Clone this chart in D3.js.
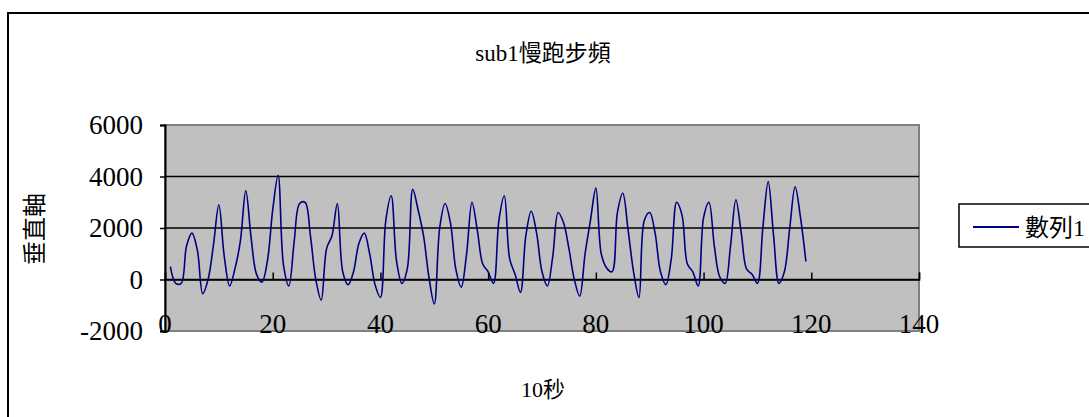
<!DOCTYPE html>
<html lang='zh-Hant'>
	<head>
		<meta charset='utf-8'>
		<title>sub1慢跑步頻</title>
		<script type='text/javascript' src='https://cdn.jsdelivr.net/npm/d3@7'></script>
		<style>
			body { margin:0; background:#fff; }
			text { font-family:'Liberation Serif','Noto Sans CJK TC',serif; fill:#000; }
		</style>
	</head>
	<body>
	</body>
	<script type='text/javascript'>
	// values, one per sample (x = 1 .. 119)
	var seriesName = '數列1';
	var steps = [
		500, -150, -150, 1300, 1800, 1150, -550, 0, 1350, 2900,
		900, -250, 430, 1500, 3450, 1600, 200, -100, 700, 2700,
		4050, 560, -250, 1500, 2950, 3000, 1700, 0, -800, 1200,
		1700, 2950, 300, -200, 300, 1400, 1800, 1000, -200, -700,
		2300, 3250, 700, -150, 430, 3500, 2700, 1700, 100, -950,
		2000, 2950, 2200, 400, -300, 1000, 3000, 1900, 600, 300,
		-150, 2300, 3250, 800, 200, -500, 1700, 2650, 1800, 300,
		-250, 900, 2600, 2200, 1200, 0, -650, 1000, 2300, 3550,
		1000, 450, 300, 2600, 3350, 1900, 300, -700, 2300, 2600,
		1800, 300, -200, 800, 3000, 2500, 600, 300, -250, 2400,
		3000, 1300, 100, -150, 1300, 3100, 1800, 400, 200, -150,
		2000, 3800, 1700, -150, 300, 2000, 3600, 2400, 700
	];
	var yTicks = [-2000, 0, 2000, 4000, 6000];
	var xTicks = [0, 20, 40, 60, 80, 100, 120, 140];
	var title = 'sub1慢跑步頻', xTitle = '10秒', yTitle = '垂直軸';

	var width = 1089, height = 417;
	var pLeft = 165, pRight = 919, pTop = 125, pBottom = 331;

	var svg = d3.select('body').append('svg').attr('width', width).attr('height', height)

	// chart frame
	svg.append('rect').attr('x', 8).attr('y', 13).attr('width', 1100).attr('height', 420)
		.attr('fill', '#fff').attr('stroke', '#000').attr('stroke-width', 2)

	var x = d3.scaleLinear().domain([0, 140]).range([pLeft, pRight]);
	var y = d3.scaleLinear().domain([-2000, 6000]).range([pBottom, pTop]);

	// plot area
	svg.append('rect').attr('x', pLeft).attr('y', pTop).attr('width', pRight-pLeft).attr('height', pBottom-pTop)
		.attr('fill', '#c0c0c0').attr('stroke', '#808080').attr('stroke-width', 2)

	// gridlines
	svg.append('g').selectAll('line').data(yTicks.filter(d => d > -2000 && d < 6000)).enter().append('line')
		.attr('x1', pLeft).attr('x2', pRight).attr('y1', d => y(d)).attr('y2', d => y(d))
		.attr('stroke', '#000').attr('stroke-width', 1.5)

	// y axis
	var yAxis = svg.append('g').attr('transform', 'translate('+pLeft+',0)')
		.call(d3.axisLeft(y).tickValues(yTicks).tickSize(5).tickPadding(17).tickFormat(d => String(d)))
	yAxis.select('.domain').attr('stroke', '#000').attr('stroke-width', 2)
	yAxis.selectAll('.tick line').attr('stroke', '#000').attr('stroke-width', 1.5)
	yAxis.selectAll('text').attr('font-size', '27px').attr('font-family', 'Liberation Serif').attr('dy', '0.33em')

	// x axis sits on zero, ticks point up, labels at bottom of plot
	var xAxis = svg.append('g').attr('transform', 'translate(0,'+y(0)+')')
		.call(d3.axisTop(x).tickValues(xTicks).tickSize(7).tickFormat(d => String(d)))
	xAxis.select('.domain').attr('stroke', '#000').attr('stroke-width', 1.5)
	xAxis.selectAll('.tick line').attr('stroke', '#000').attr('stroke-width', 1.5)
	xAxis.selectAll('text').remove()
	svg.append('g').selectAll('text').data(xTicks).enter().append('text')
		.attr('x', d => x(d)).attr('y', pBottom+2).attr('text-anchor', 'middle')
		.attr('font-size', '27px').text(d => d)

	// series (smoothed like the dense original trace)
	var line = d3.line().x((d, i) => x(i+1)).y(d => y(d)).curve(d3.curveCatmullRom.alpha(0.5));
	svg.append('path').datum(steps).attr('d', line)
		.attr('fill', 'none').attr('stroke', '#000080').attr('stroke-width', 1.6).attr('stroke-linejoin', 'round')

	// titles
	svg.append('text').attr('x', 543).attr('y', 61).attr('text-anchor', 'middle').attr('font-size', '23px').text(title)
	svg.append('text').attr('x', 543).attr('y', 397).attr('text-anchor', 'middle').attr('font-size', '22px').text(xTitle)
	svg.append('text').attr('transform', 'translate(43,229) rotate(-90)').attr('text-anchor', 'middle')
		.attr('font-size', '24px').text(yTitle)

	// legend
	svg.append('rect').attr('x', 959).attr('y', 204).attr('width', 140).attr('height', 43)
		.attr('fill', '#fff').attr('stroke', '#000').attr('stroke-width', 1.5)
	svg.append('line').attr('x1', 973).attr('x2', 1019).attr('y1', 227).attr('y2', 227)
		.attr('stroke', '#000080').attr('stroke-width', 2)
	svg.append('text').attr('x', 1025).attr('y', 236).attr('font-size', '24px').text(seriesName)
	</script>
</html>
